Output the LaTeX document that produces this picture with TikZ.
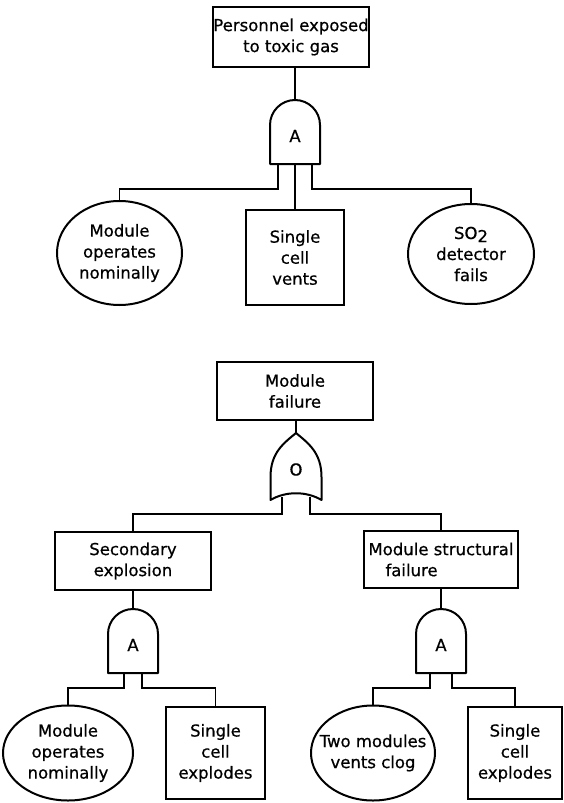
\documentclass[tikz,border=0pt]{standalone}
\usepackage{fontspec}
\setmainfont{DejaVu Sans}[FakeBold=0.6]
\usetikzlibrary{shapes.geometric}
\begin{document}
\begin{tikzpicture}[x=1pt,y=-1pt,
  every node/.style={font=\fontsize{16.5}{21}\selectfont},
  event/.style={draw, line width=2pt, rectangle, inner sep=0pt, align=center},
  basic/.style={draw, line width=2pt, ellipse, inner sep=0pt},
  gatebox/.style={minimum width=50pt, inner sep=0pt, outer sep=0pt},
  gateline/.style={line width=2pt, line join=round},
  wire/.style={line width=1.6pt}]

\fill[white] (0,0) rectangle (563,803);
\useasboundingbox (0,0) rectangle (563,803);

% ---------------- upper tree ----------------
\node[event, minimum width=156pt, minimum height=60pt] (top) at (291,37)
  {Personnel exposed\\to toxic gas};

\node[gatebox, minimum height=64pt] (and1) at (295,132) {};
\draw[gateline] (and1.south west) -- ([yshift=-25pt]and1.north west)
  arc[start angle=180, end angle=0, radius=25pt] -- (and1.south east) -- cycle;
\node (and1txt) at ([yshift=-4pt]and1.center) {A};

\node[basic, minimum width=125pt, minimum height=104pt,
  label={[align=center]center:Module\\operates\\nominally}] (e1) at (119.5,253) {};
\node[event, minimum width=98pt, minimum height=95pt] (b1) at (295,257.5)
  {Single\\cell\\vents};
\node[basic, minimum width=126pt, minimum height=100pt,
  label={[align=center]center:SO\raisebox{-0.35ex}{2}\\detector\\fails}] (e2) at (471,254) {};

\draw[wire] (and1.north) -- (and1.north |- top.south);
\draw[wire] ([xshift=-17pt]and1.south) -- ++(0,25) -| (e1.north);
\draw[wire] (and1.south) -- (b1.north);
\draw[wire] ([xshift=17pt]and1.south) -- ++(0,25) -| (e2.north);

% ---------------- lower tree ----------------
\node[event, minimum width=156pt, minimum height=58pt] (mf) at (295,391)
  {Module\\failure};

\node[gatebox, minimum width=51pt, minimum height=67pt] (or1) at (296,466.5) {};
\draw[gateline] (or1.north)
  .. controls ([xshift=-12pt,yshift=-10pt]or1.north) and ([yshift=14pt]or1.west)
  .. ([yshift=-10.5pt]or1.west) -- (or1.south west)
  .. controls ([xshift=15pt,yshift=9pt]or1.south west) and ([xshift=-15pt,yshift=9pt]or1.south east)
  .. (or1.south east) -- ([yshift=-10.5pt]or1.east)
  .. controls ([yshift=14pt]or1.east) and ([xshift=12pt,yshift=-10pt]or1.north)
  .. (or1.north) -- cycle;
\node (or1txt) at ([yshift=-3pt]or1.center) {O};

\node[event, minimum width=156pt, minimum height=58pt] (se) at (133,561)
  {Secondary\\explosion};
\node[event, minimum width=154pt, minimum height=57pt, align=left] (ms) at (441,559.5)
  {Module structural\\\hspace*{17pt}failure};

\draw[wire] (or1.north) -- (or1.north |- mf.south);
\draw[wire] ([xshift=-14pt,yshift=3pt]or1.south) -- ++(0,17) -| (se.north);
\draw[wire] ([xshift=14pt,yshift=3pt]or1.south) -- ++(0,17) -| (ms.north);

% left AND branch
\node[gatebox, minimum height=64pt] (and2) at (133,641) {};
\draw[gateline] (and2.south west) -- ([yshift=-25pt]and2.north west)
  arc[start angle=180, end angle=0, radius=25pt] -- (and2.south east) -- cycle;
\node (and2txt) at ([yshift=-4pt]and2.center) {A};

\node[basic, minimum width=130pt, minimum height=95pt,
  label={[align=center]center:Module\\operates\\nominally}] (e4) at (68,753) {};
\node[event, minimum width=99pt, minimum height=92pt] (b4) at (215.5,753)
  {Single\\cell\\explodes};

\draw[wire] (and2.north) -- (and2.north |- se.south);
\draw[wire] ([xshift=-9pt]and2.south) -- ++(0,15) -| (e4.north);
\draw[wire] ([xshift=9pt]and2.south) -- ++(0,15) -| (b4.north);

% right AND branch
\node[gatebox, minimum height=64pt] (and3) at (441,641) {};
\draw[gateline] (and3.south west) -- ([yshift=-25pt]and3.north west)
  arc[start angle=180, end angle=0, radius=25pt] -- (and3.south east) -- cycle;
\node (and3txt) at ([yshift=-4pt]and3.center) {A};

\node[basic, minimum width=124pt, minimum height=95pt,
  label={[align=center]center:Two modules\\vents clog}] (e5) at (373,753) {};
\node[event, minimum width=94pt, minimum height=92pt] (b5) at (515,753)
  {Single\\cell\\explodes};

\draw[wire] (and3.north) -- (and3.north |- ms.south);
\draw[wire] ([xshift=-11pt]and3.south) -- ++(0,15) -| (e5.north);
\draw[wire] ([xshift=11pt]and3.south) -- ++(0,15) -| (b5.north);
\end{tikzpicture}
\end{document}
